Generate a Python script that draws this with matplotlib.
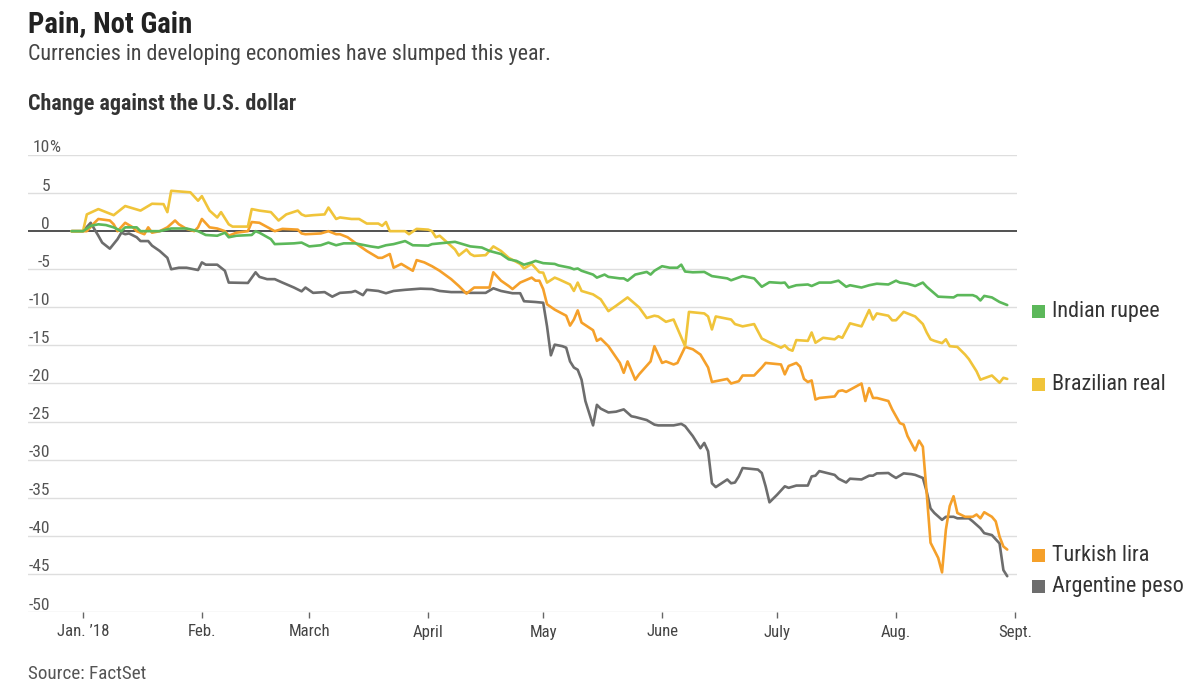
import numpy as np
import pandas as pd
import matplotlib
matplotlib.use("Agg")
import matplotlib.pyplot as plt
from matplotlib import font_manager as fm
from matplotlib.patches import Rectangle

# ---------------- data (days offset from 2018-01-01, % change vs USD) ----------------
india_days = [-3, 0, 2, 4, 6, 8, 10, 11, 14, 15, 20, 23, 27, 30, 32, 35, 37, 38, 40, 44, 45, 46, 49, 50,
              55, 57, 59, 62, 64, 66, 68, 71, 75, 77, 79, 81, 84, 86, 90, 91, 93, 95, 97, 99, 101, 104,
              106, 109, 111, 113, 115, 117, 118, 120, 123, 124, 127, 128, 129, 130, 133, 134, 136, 137,
              140, 141, 142, 144, 147, 148, 149, 151, 153, 155, 156, 157, 159, 162, 164, 168, 169, 172,
              175, 177, 178, 179, 182, 183, 184, 186, 189, 190, 192, 195, 197, 199, 200, 203, 205, 207,
              210, 212, 213, 215, 217, 219, 220, 223, 227, 228, 232, 233, 234, 235, 237, 239, 241]
india_vals = [0, 0, 0.7, 0.9, 0.8, 0.5, 0.0, 0.5, 0.5, 0.0, 0.0, 0.35, 0.35, 0.0, -0.5, -0.6, -0.2, -0.8,
              -0.6, -0.5, 0.0, -0.2, -1.05, -1.7, -1.6, -1.5, -2.0, -1.85, -1.5, -1.85, -1.6, -1.6, -2.0,
              -2.15, -1.85, -1.7, -1.3, -1.85, -1.9, -1.7, -1.6, -1.5, -1.4, -1.7, -2.0, -2.15, -2.6, -3.0,
              -3.7, -3.9, -4.4, -4.1, -3.9, -4.2, -4.3, -4.5, -4.8, -5.0, -4.9, -5.2, -5.7, -6.1, -5.7,
              -6.0, -6.2, -6.2, -6.5, -5.7, -5.35, -5.7, -5.2, -4.6, -4.8, -4.8, -4.4, -5.3, -5.4, -5.35,
              -5.9, -6.2, -6.45, -5.9, -6.2, -7.3, -7.0, -6.7, -6.8, -6.75, -7.4, -7.1, -7.0, -7.2, -6.75,
              -6.75, -6.5, -7.3, -7.1, -7.4, -7.1, -6.9, -7.0, -6.5, -6.75, -6.9, -7.2, -6.75, -7.3, -8.6,
              -8.7, -8.4, -8.4, -8.6, -9.1, -8.5, -8.7, -9.3, -9.7]

brazil_days = [-3, 0, 1, 4, 8, 11, 15, 18, 21, 22, 23, 28, 30, 31, 33, 35, 36, 38, 39, 43, 44, 46, 49, 51,
               53, 56, 57, 58, 60, 63, 64, 66, 67, 70, 72, 74, 77, 78, 79, 80, 84, 85, 87, 90, 91, 92, 93,
               95, 97, 98, 100, 101, 102, 105, 107, 109, 111, 114, 115, 117, 119, 120, 121, 123, 124, 127,
               128, 129, 130, 133, 135, 137, 139, 142, 145, 147, 149, 150, 152, 154, 157, 158, 162, 163,
               164, 165, 169, 170, 172, 173, 175, 177, 179, 182, 183, 184, 185, 186, 189, 190, 191, 193,
               196, 197, 198, 200, 203, 205, 206, 207, 210, 211, 212, 214, 217, 219, 220, 221, 222, 224,
               225, 226, 228, 230, 231, 233, 234, 237, 239, 240, 241]
brazil_vals = [0, 0, 2.2, 2.9, 2.1, 3.3, 2.7, 3.6, 3.55, 2.5, 5.3, 5.1, 4.0, 4.6, 2.7, 1.8, 2.5, 0.9, 0.6,
               0.6, 2.9, 2.7, 2.5, 1.4, 2.2, 2.7, 2.2, 2.0, 2.1, 2.2, 3.1, 1.6, 1.8, 1.6, 1.6, 1.0, 1.0, 0.7,
               1.2, 0.0, 0.0, -0.4, 0.3, 0.2, 0.0, -0.8, -0.6, -1.5, -2.4, -3.2, -2.4, -3.0, -3.25, -3.15,
               -2.0, -2.6, -3.5, -4.3, -4.9, -4.3, -5.4, -5.45, -6.75, -6.1, -6.3, -7.0, -7.85, -6.75, -7.85,
               -8.3, -8.95, -10.5, -9.8, -8.7, -10.0, -11.4, -11.1, -11.2, -11.9, -11.6, -15.1, -10.6, -10.8,
               -11.2, -12.9, -11.2, -11.6, -12.2, -12.5, -12.4, -12.2, -14.1, -14.6, -15.3, -15.0, -15.5,
               -15.7, -14.3, -14.4, -13.3, -14.65, -14.0, -14.2, -13.8, -14.0, -12.1, -12.5, -10.35, -11.6,
               -10.8, -11.1, -11.7, -11.7, -10.6, -11.2, -12.2, -13.3, -14.2, -14.4, -14.7, -14.2, -15.1,
               -15.2, -16.2, -16.8, -18.4, -19.5, -18.95, -19.9, -19.25, -19.4]

turkey_days = [-3, 1, 3, 4, 7, 8, 9, 11, 13, 14, 16, 17, 18, 20, 22, 24, 25, 27, 29, 30, 31, 33, 35, 37, 38,
               40, 43, 44, 46, 50, 52, 56, 57, 58, 62, 64, 66, 67, 69, 72, 74, 77, 78, 80, 81, 83, 84, 86,
               87, 89, 91, 93, 96, 98, 100, 102, 106, 107, 109, 111, 112, 114, 117, 118, 119, 120, 121,
               123, 126, 127, 128, 129, 130, 133, 134, 135, 137, 140, 141, 142, 144, 145, 148, 149, 151,
               152, 154, 155, 157, 159, 161, 163, 164, 168, 169, 171, 172, 175, 177, 178, 182, 183, 184,
               186, 187, 188, 189, 190, 191, 192, 196, 197, 198, 199, 203, 204, 205, 206, 207, 210, 211,
               213, 214, 215, 217, 218, 219, 220, 221, 223, 224, 225, 226, 227, 228, 230, 232, 233, 234,
               235, 237, 238, 239, 240, 241]
turkey_vals = [0, 0, 1.1, 1.6, 1.4, 0.9, 0.0, 1.1, 0.5, 0.0, -0.4, 0.5, -0.2, 0.0, 0.5, 1.4, 0.9, 0.3, 0.0,
               0.5, 1.6, 0.5, 0.35, 0.0, -0.6, -0.2, 0.0, 1.2, 1.1, 0.0, 0.3, 0.2, -0.3, -0.4, -0.3, 0.0,
               -0.4, -0.4, -0.8, -1.9, -2.6, -3.5, -3.5, -3.0, -4.8, -4.3, -4.6, -5.2, -3.8, -4.1, -4.6,
               -5.2, -6.3, -7.2, -8.2, -7.4, -7.4, -5.4, -6.5, -7.2, -7.6, -6.75, -6.1, -6.5, -6.5, -7.6,
               -9.6, -10.3, -11.1, -12.4, -11.6, -10.4, -12.0, -13.0, -14.4, -14.1, -15.1, -17.3, -18.6,
               -17.1, -19.5, -18.8, -17.1, -15.1, -17.3, -17.1, -17.5, -17.3, -15.2, -15.5, -16.2, -17.9,
               -19.8, -19.4, -20.0, -19.7, -18.95, -18.95, -17.9, -17.3, -17.5, -18.8, -17.7, -17.3, -17.8,
               -19.4, -19.8, -19.6, -22.1, -21.9, -21.7, -21.0, -20.9, -21.1, -20.0, -22.3, -20.6, -21.9,
               -21.9, -22.3, -23.4, -25.2, -25.4, -26.9, -28.8, -27.5, -28.3, -34.4, -40.9, -42.9, -44.8,
               -39.2, -36.1, -34.8, -37.0, -37.5, -37.5, -37.2, -37.7, -36.9, -37.5, -38.1, -40.1, -41.4,
               -41.8]

argentina_days = [-3, 0, 2, 4, 5, 6, 7, 9, 10, 11, 12, 14, 15, 17, 18, 20, 22, 23, 25, 27, 30, 31, 32, 35,
                  37, 38, 43, 45, 46, 48, 50, 52, 55, 57, 58, 60, 63, 65, 67, 70, 71, 73, 74, 77, 79, 81,
                  84, 88, 91, 93, 96, 99, 101, 105, 107, 109, 112, 114, 115, 118, 120, 121, 122, 123, 125,
                  126, 127, 128, 129, 130, 131, 133, 134, 135, 137, 139, 141, 143, 144, 147, 149, 150, 154,
                  156, 157, 159, 161, 162, 163, 164, 165, 168, 169, 170, 171, 172, 176, 177, 178, 179, 181,
                  183, 184, 186, 189, 190, 191, 192, 196, 197, 199, 200, 203, 205, 206, 207, 210, 211, 212,
                  214, 216, 217, 219, 220, 221, 222, 224, 225, 227, 228, 231, 232, 234, 235, 237, 239, 240,
                  241]
argentina_vals = [0, 0, 1.1, -0.6, -1.5, -1.9, -2.3, -1.05, -0.2, -0.4, -0.3, -0.8, -1.3, -1.3, -1.9, -2.6,
                  -3.5, -5.0, -4.8, -4.8, -5.1, -4.1, -4.4, -4.4, -5.2, -6.75, -6.8, -5.4, -6.0, -6.3, -6.3,
                  -6.75, -7.4, -7.9, -7.4, -8.1, -8.0, -8.6, -8.1, -8.0, -7.85, -8.4, -7.7, -7.85, -8.15,
                  -7.85, -7.7, -7.55, -7.6, -7.85, -8.0, -8.0, -8.1, -8.1, -7.5, -7.85, -8.15, -8.15, -9.2,
                  -9.3, -9.4, -12.5, -16.3, -14.9, -15.1, -15.3, -17.1, -17.9, -18.2, -19.5, -22.3, -25.5,
                  -22.8, -23.3, -23.8, -23.7, -23.4, -24.3, -24.4, -24.8, -25.4, -25.5, -25.5, -25.3, -25.6,
                  -26.9, -28.5, -27.8, -28.9, -33.1, -33.6, -32.6, -33.1, -33.0, -32.2, -31.1, -31.3, -31.75,
                  -33.5, -35.6, -34.6, -33.5, -33.7, -33.4, -33.4, -32.2, -32.1, -31.5, -32.0, -32.5, -33.0,
                  -32.5, -32.6, -32.1, -32.1, -31.8, -31.75, -32.1, -32.4, -31.8, -31.9, -32.0, -32.4, -34.2,
                  -36.4, -37.0, -37.9, -37.5, -37.5, -37.7, -37.7, -38.1, -39.0, -39.65, -39.9, -41.0, -44.5,
                  -45.3]

series_names = ["Indian rupee", "Brazilian real", "Turkish lira", "Argentine peso"]
month_ticks = ["2018-01-01", "2018-02-01", "2018-03-01", "2018-04-01", "2018-05-01",
               "2018-06-01", "2018-07-01", "2018-08-01", "2018-09-01"]
month_labels = ["Jan. \u201918", "Feb.", "March", "April", "May", "June", "July", "Aug.", "Sept."]
y_ticks = [10, 5, 0, -5, -10, -15, -20, -25, -30, -35, -40, -45, -50]

# ---------------- style ----------------
W, H = 1200, 686
names = {f.name for f in fm.fontManager.ttflist}
FONT = "DejaVu Sans"
for cand in ["Roboto Condensed", "Liberation Sans Narrow", "Open Sans Condensed", "Roboto", "Lato"]:
    if cand in names:
        FONT = cand
        break
plt.rcParams["font.family"] = [FONT, "DejaVu Sans"]

colors = {"Indian rupee": "#5cb85a", "Brazilian real": "#f0c43a",
          "Turkish lira": "#f5a02a", "Argentine peso": "#6d6d6d"}

base = pd.Timestamp("2018-01-01")
def to_dates(days):
    return base + pd.to_timedelta(np.asarray(days, dtype=float), unit="D")

def px(x, y):
    return (x / W, 1 - y / H)

fig = plt.figure(figsize=(W / 100, H / 100), dpi=100)
fig.patch.set_facecolor("white")

ax_left, ax_right = 28, 1017
ax_top, ax_bot = 155, 612
ax = fig.add_axes([ax_left / W, 1 - ax_bot / H, (ax_right - ax_left) / W, (ax_bot - ax_top) / H])
ax.set_facecolor("white")
ax.set_ylim(-50, 10)
x_left_day = (ax_left - 83) / 3.835
x_right_day = (ax_right - 83) / 3.835
ax.set_xlim(base + pd.Timedelta(days=x_left_day), base + pd.Timedelta(days=x_right_day))

for s in ax.spines.values():
    s.set_visible(False)
ax.set_yticks([])

for v in y_ticks:
    if v == 0:
        ax.axhline(v, color="#222222", lw=1.1, zorder=2)
    else:
        ax.axhline(v, color="#dedede", lw=1.0, zorder=1)

data = {
    "Argentine peso": (argentina_days, argentina_vals),
    "Turkish lira": (turkey_days, turkey_vals),
    "Brazilian real": (brazil_days, brazil_vals),
    "Indian rupee": (india_days, india_vals),
}
for i, name in enumerate(["Argentine peso", "Turkish lira", "Brazilian real", "Indian rupee"]):
    d, v = data[name]
    ax.plot(to_dates(d), v, color=colors[name], lw=1.9, solid_joinstyle="round",
            solid_capstyle="round", zorder=3 + i)

ax.set_xticks(pd.to_datetime(month_ticks))
ax.set_xticklabels(month_labels)
ax.tick_params(axis="x", length=4, width=1, color="#666666", pad=5,
               labelsize=10.5, labelcolor="#444444")

# y tick labels (above gridlines, right aligned)
ylab = []
for v in y_ticks:
    t = ax.annotate(str(v), xy=(0, v), xycoords=("axes fraction", "data"),
                    xytext=(22, 2.5), textcoords="offset pixels",
                    ha="right", va="baseline", fontsize=10.5, color="#555555")
    ylab.append(t)
pct = ax.annotate("%", xy=(0, 10), xycoords=("axes fraction", "data"),
                  xytext=(21.5, 2.5), textcoords="offset pixels",
                  ha="left", va="baseline", fontsize=10.5, color="#555555")

# header texts
title = fig.text(*px(28, 32), "Pain, Not Gain", ha="left", va="baseline",
                 fontsize=16, fontweight="bold", color="#222222")
sub = fig.text(*px(28, 60), "Currencies in developing economies have slumped this year.",
               ha="left", va="baseline", fontsize=13, color="#444444")
head = fig.text(*px(28, 110), "Change against the U.S. dollar", ha="left", va="baseline",
                fontsize=12.5, fontweight="bold", color="#333333")
src = fig.text(*px(28, 679), "Source: FactSet", ha="left", va="baseline",
               fontsize=11.5, color="#555555")

# legend labels at right
leg_y = {"Indian rupee": 311, "Brazilian real": 384, "Turkish lira": 555, "Argentine peso": 586}
leg_txt = {}
for name in series_names:
    yc = leg_y[name]
    fig.add_artist(Rectangle(px(1032, yc + 6.5), 13 / W, 13 / H, transform=fig.transFigure,
                             facecolor=colors[name], edgecolor="none"))
    leg_txt[name] = fig.text(*px(1052, yc + 6), name, ha="left", va="baseline",
                             fontsize=14, color="#333333")

# fit font sizes to reference widths
renderer = fig.canvas.get_renderer()
def fit(t, width):
    bb = t.get_window_extent(renderer)
    f = width / bb.width
    t.set_fontsize(t.get_fontsize() * f)
    return f

fit(title, 164)
fit(sub, 521)
fit(head, 268)
fit(src, 119)
f = fit(leg_txt["Argentine peso"], 133)
for name in series_names:
    if name != "Argentine peso":
        leg_txt[name].set_fontsize(leg_txt["Argentine peso"].get_fontsize())

fig.canvas.draw()
# tick font size from "March" width (~42 px)
march = [lab for lab in ax.get_xticklabels() if lab.get_text() == "March"][0]
fx = 42 / march.get_window_extent(renderer).width
tsize = 10.5 * fx
ax.tick_params(axis="x", labelsize=tsize)
fy = 22 / ylab[-1].get_window_extent(renderer).width
for t in ylab + [pct]:
    t.set_fontsize(10.5 * fy)

fig.savefig("out.png", dpi=100, facecolor="white")
